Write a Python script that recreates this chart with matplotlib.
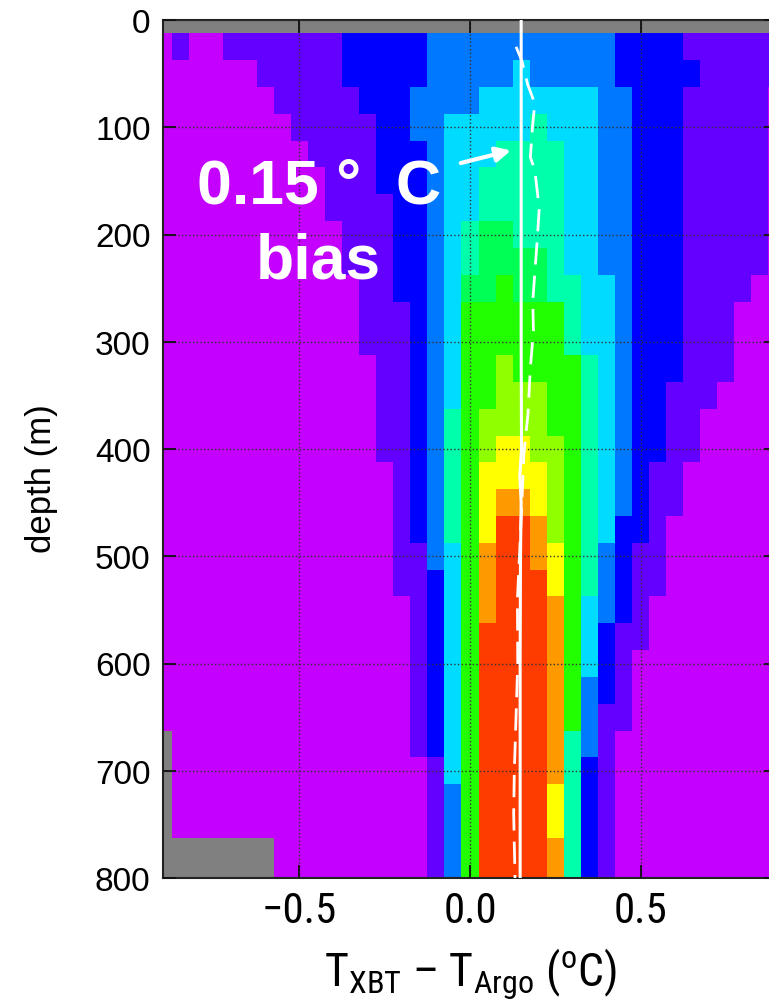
import numpy as np
import matplotlib
matplotlib.use("Agg")
import matplotlib.pyplot as plt
from matplotlib import font_manager
from matplotlib.colors import ListedColormap, BoundaryNorm

# ── Bins: temperature difference (°C) and depth (m) ──────
bin_x = np.arange(-0.9, 0.9001, 0.05)
bin_depth = np.arange(0, 801, 25)

# colour level of each bin, one string per depth row ("-" = no data)
level_codes = "0123456789ab"
level_colors = ["#c400ff", "#6400ff", "#0000ff", "#0078ff", "#00dcff", "#00ffaa",
                "#00ff55", "#22ff00", "#90ff00", "#ffff00", "#ff9900", "#ff3c00"]

hist_rows = [
    "----- ----- ----- ----- ----- ----- ----- --",                   # 0
    "0 1 00 1111111 22222 33333333333 2222 111111",                   # 25
    "000000 11111 22222 33333 4 33333 22222 11111",                   # 50
    "0000000 11111 222 3333 4444444 33 222 11111 0",                  # 75
    "00000000 11111 22 33 44444 5 444 33 222 11111 0",                # 100
    "000000000 1111 222 3 444 5555 44 33 222 11111 0",                # 125
    "0000000000 111 222 3 44 55555 44 33 222 11111 0",                # 150
    "0000000000 1111 22 3 44 55555 44 33 222 11111 0",                # 175
    "00000000000 111 22 3 4 5 66 555 44 33 222 11111 0",              # 200
    "00000000000 111 22 3 4 5 6666 5 44 33 222 11111 0",              # 225
    "000000000000 11 22 3 4 66 7 66 55 44 3 222 1111 00",             # 250
    "000000000000 111 2 3 4 777777 5 44 3 222 111 000",               # 275
    "000000000000 111 2 3 4 777777 5 44 3 222 111 000",               # 300
    "0000000000000 11 2 3 4 77 8 7777 5 4 3 222 111 000",             # 325
    "0000000000000 11 2 3 4 77 888 77 5 4 3 22 111 0000",             # 350
    "0000000000000 11 2 3 5 7 8888 77 5 4 3 22 11 00000",             # 375
    "0000000000000 11 2 3 5 7 8 99 88 7 5 4 3 22 11 00000",           # 400
    "00000000000000 1 2 3 5 7 9999 8 7 5 4 3 2 11 000000",            # 425
    "00000000000000 1 2 3 5 7 9 aa 9 8 7 5 4 3 2 11 000000",          # 450
    "00000000000000 1 2 3 5 7 9 bb a 8 7 5 4 2 2 1 0000000",          # 475
    "00000000000000 11 3 4 7 a bb a 9 7 5 3 2 11 0000000",            # 500
    "00000000000000 11 2 4 7 a bbb 9 7 5 3 2 11 0000000",             # 525
    "000000000000000 1 2 4 7 a bbb a 7 4 3 2 1 00000000",             # 550
    "000000000000000 1 2 4 7 bbbb a 7 4 2 1 1 00000000",              # 575
    "000000000000000 1 2 4 7 bbbb a 7 4 2 1 000000000",               # 600
    "000000000000000 1 2 4 7 bbbb a 7 3 2 1 000000000",               # 625
    "000000000000000 1 2 4 7 bbbb a 7 3 1 1 000000000",               # 650
    "- 00000000000000 1 2 4 7 bbbb a 5 3 1 0000000000",               # 675
    "- 000000000000000 1 4 7 bbbb a 5 2 1 0000000000",                # 700
    "- 000000000000000 1 3 7 bbbb 9 5 2 1 0000000000",                # 725
    "- 000000000000000 1 3 7 bbbb 9 5 2 1 0000000000",                # 750
    "------- 000000000 1 3 7 bbbb a 5 2 1 0000000000",                # 775
    "------- 000000000 1 3 7 bbbb a 5 2 1 0000000000",                # 800
]

# mean (solid) and median (dashed) difference profiles
mean_depth = [0, 100, 200, 300, 400, 425, 450, 500, 600, 700, 800]
mean_bias = [0.150, 0.150, 0.150, 0.150, 0.151, 0.146, 0.150, 0.148, 0.147, 0.147, 0.147]
median_depth = [25, 38, 60, 78, 100, 128, 140, 176, 210, 262, 290, 324, 367, 405,
                450, 500, 540, 600, 650, 700, 740, 800]
median_bias = [0.135, 0.152, 0.169, 0.190, 0.183, 0.177, 0.190, 0.203, 0.196, 0.184,
               0.186, 0.177, 0.170, 0.158, 0.152, 0.145, 0.139, 0.140, 0.135, 0.130,
               0.128, 0.132]


def pick_font(names, fallback):
    for name in names:
        try:
            font_manager.findfont(name, fallback_to_default=False)
            return name
        except ValueError:
            pass
    return fallback


sans = "Liberation Sans"
narrow = pick_font(["Liberation Sans Narrow", "Arial Narrow", "Roboto Condensed",
                    "Open Sans Condensed", "DejaVu Sans Condensed"], sans)
narrow_scale = 1.0 if narrow != sans else 0.86
plt.rcParams["mathtext.fontset"] = "custom"
plt.rcParams["mathtext.rm"] = narrow
plt.rcParams["mathtext.it"] = narrow

grid = np.array([[level_codes.find(c) for c in row.replace(" ", "")]
                 for row in hist_rows], dtype=float)
grid = np.ma.masked_less(grid, 0)

cmap = ListedColormap(level_colors)
cmap.set_bad("#808080")
norm = BoundaryNorm(np.arange(-0.5, len(level_colors)), cmap.N)

fig = plt.figure(figsize=(7.69, 10.04), dpi=100)
ax = fig.add_axes([163 / 769, 1 - 879 / 1004, 614 / 769, 858 / 1004])

ax.pcolormesh(bin_x, bin_depth, grid, cmap=cmap, norm=norm, shading="nearest")

ax.plot(mean_bias, mean_depth, color="white", linewidth=2.2, zorder=4)
ax.plot(median_bias, median_depth, color="white", linewidth=2.0,
        dashes=(8, 4), zorder=4)

# label with arrow pointing at the mean profile
ax.text(-0.443, 170, "0.15 °  C", ha="center", va="baseline", color="white",
        fontsize=45, fontweight="bold", family=sans, zorder=5)
ax.text(-0.443, 240, "bias", ha="center", va="baseline", color="white",
        fontsize=45, fontweight="bold", family=sans, zorder=5)
ax.annotate("", xy=(0.128, 121), xytext=(-0.035, 134),
            arrowprops=dict(arrowstyle="-|>", color="white", lw=3,
                            mutation_scale=22), zorder=5)

ax.set_xlim(-0.9, 0.9)
ax.set_ylim(800, 0)
ax.set_xticks([-0.5, 0.0, 0.5])
ax.set_xticklabels(["\u22120.5", "0.0", "0.5"], family=narrow,
                   fontsize=31 * narrow_scale)
ax.set_yticks(np.arange(0, 801, 100))
ax.set_yticklabels([str(d) for d in range(0, 801, 100)], family=sans, fontsize=24)

ax.grid(True, linestyle=":", color="#333333", linewidth=1.0)
ax.set_axisbelow(False)
ax.tick_params(direction="in", length=9.5, width=1.3, top=True, right=True,
               color="#111111")
ax.tick_params(axis="x", pad=9)
ax.tick_params(axis="y", pad=9)
for spine in ax.spines.values():
    spine.set_linewidth(1.5)
    spine.set_color("#222222")

ax.set_xlabel(r"T$_{\mathrm{XBT}}$ " + "\u2013" + r" T$_{\mathrm{Argo}}$ ($^{\mathrm{o}}$C)",
              family=narrow, fontsize=33 * narrow_scale, labelpad=10)
ax.set_ylabel("depth (m)", family=sans, fontsize=25)
ax.yaxis.set_label_coords(-0.171, 0.467)

fig.savefig("out.png", dpi=100)
